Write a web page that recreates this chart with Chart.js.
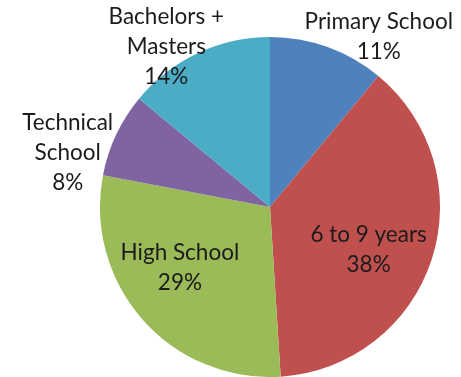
<!DOCTYPE html>
<html>
<head>
<meta charset="utf-8">
<script src="https://cdn.jsdelivr.net/npm/chart.js@4/dist/chart.umd.min.js"></script>
<style>
  html, body { margin: 0; padding: 0; background: #fff; }
  #wrap { width: 461px; height: 377px; }
</style>
</head>
<body>
<div id="wrap"><canvas id="pie"></canvas></div>
<script>
// schooling levels, share of respondents (%)
const categories = ['Primary School', '6 to 9 years', 'High School', 'Technical School', 'Bachelors + Masters'];
const shares = [11, 38, 29, 8, 14];
const labelLines = [
  ['Primary School'],
  ['6 to 9 years'],
  ['High School'],
  ['Technical', 'School'],
  ['Bachelors +', 'Masters']
];
const sliceColors = ['#4F81BD', '#C0504D', '#9BBB59', '#8064A2', '#4BACC6'];

// where each label block sits, relative to the pie centre in radius units
const labelOffsets = [
  [0.64, -1.0],
  [0.58, 0.25],
  [-0.53, 0.36],
  [-1.19, -0.32],
  [-0.61, -0.94]
];

const sliceLabels = {
  id: 'sliceLabels',
  afterDatasetsDraw(chart) {
    const ctx = chart.ctx;
    const meta = chart.getDatasetMeta(0);
    const data = chart.data.datasets[0].data;
    const total = data.reduce((a, b) => a + b, 0);
    const lineH = 30;
    ctx.save();
    ctx.font = '22.5px Lato, "Open Sans", sans-serif';
    ctx.fillStyle = '#1b1b1b';
    ctx.textAlign = 'center';
    ctx.textBaseline = 'middle';
    meta.data.forEach((arc, i) => {
      const r = arc.outerRadius;
      const cx = arc.x + labelOffsets[i][0] * r;
      const cy = arc.y + labelOffsets[i][1] * r;
      const lines = labelLines[i].concat([Math.round(data[i] / total * 100) + '%']);
      const top = cy - (lines.length - 1) * lineH / 2;
      lines.forEach((t, k) => ctx.fillText(t, cx, top + k * lineH));
    });
    ctx.restore();
  }
};

new Chart(document.getElementById('pie'), {
  type: 'pie',
  data: {
    labels: categories,
    datasets: [{
      data: shares,
      backgroundColor: sliceColors,
      borderWidth: 0
    }]
  },
  options: {
    responsive: true,
    maintainAspectRatio: false,
    animation: false,
    layout: { padding: { top: 37, bottom: 0, left: 100, right: 21 } },
    plugins: {
      legend: { display: false },
      tooltip: { enabled: false }
    }
  },
  plugins: [sliceLabels]
});
</script>
</body>
</html>
